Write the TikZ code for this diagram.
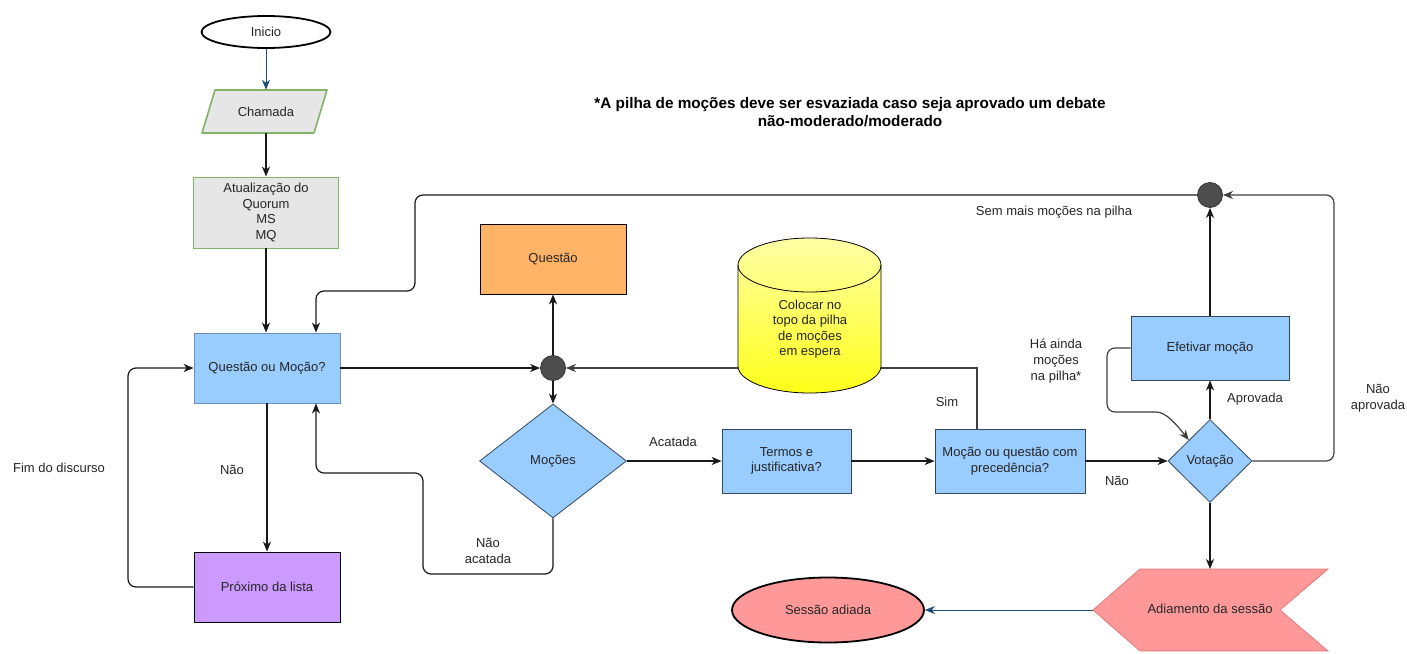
\documentclass[tikz,border=0pt]{standalone}
\usepackage{fontspec}
\setmainfont{Liberation Sans}
\usetikzlibrary{shapes.geometric,arrows.meta}
\definecolor{txt}{HTML}{262626}
\definecolor{blueF}{HTML}{99CCFF}
\definecolor{blueB}{HTML}{6C8EBF}
\definecolor{blueD}{HTML}{34495E}
\definecolor{grayF}{HTML}{E6E6E6}
\definecolor{greenB}{HTML}{82B366}
\definecolor{purpF}{HTML}{CC99FF}
\definecolor{orangeF}{HTML}{FFB366}
\definecolor{redF}{HTML}{FF9999}
\definecolor{redB}{HTML}{E07A7A}
\definecolor{navyL}{HTML}{1F4E79}
\definecolor{dotF}{HTML}{4D4D4D}
\definecolor{cylTop}{HTML}{FFFFA6}
\definecolor{cylBot}{HTML}{FFFF1A}
\tikzset{
  lab/.style={font=\fontsize{13}{16}\selectfont, text=txt, align=center, inner sep=0},
  box/.style={draw, rectangle, inner sep=0, align=center, line width=0.8pt,
              font=\fontsize{13}{15.5}\selectfont, text=txt},
  term/.style={ellipse, draw=black, line width=1.8pt, inner sep=0,
               font=\fontsize{13}{15.5}\selectfont, text=txt},
  dec/.style={diamond, draw=blueD, fill=blueF, line width=0.8pt, inner sep=0,
              font=\fontsize{13}{15.5}\selectfont, text=txt},
  junc/.style={circle, fill=dotF, draw=black!80, line width=0.8pt, minimum size=25pt, inner sep=0},
  tip/.style={-{Stealth[length=10pt,width=8pt,inset=3pt]}},
  conn/.style={draw=black!90, line width=1.2pt, tip},
  bconn/.style={draw=navyL, line width=1pt, tip},
}
\begin{document}
\begin{tikzpicture}[x=1pt,y=-1pt]
\useasboundingbox[fill=white] (0,0) rectangle (1407,653);

% title
\node[font=\fontsize{15.3}{18}\selectfont\bfseries, text=black, align=center, inner sep=0] (title) at (850,112)
  {*A pilha de moções deve ser esvaziada caso seja aprovado um debate\\não-moderado/moderado};

% nodes
\node[term, fill=white, minimum width=129pt, minimum height=32pt] (inicio) at (266,32) {Inicio};
\draw[fill=grayF, draw=greenB, line width=1.6pt, line join=round] (202,133) -- (215,90) -- (327,90) -- (314,133) -- cycle;
\node[lab, font=\fontsize{13}{15.5}\selectfont, minimum width=100pt, minimum height=43pt] (chamada) at (266,111.5) {Chamada};
\node[box, fill=grayF, draw=greenB, minimum width=145pt, minimum height=71pt] (atual) at (266,212.5)
  {Atualização do\\Quorum\\MS\\MQ};
\node[box, fill=blueF, draw=blueB, minimum width=146pt, minimum height=70pt] (qom) at (267,368) {Questão ou Moção?};
\node[box, fill=purpF, draw=black, minimum width=146pt, minimum height=70pt] (prox) at (267,587) {Próximo da lista};
\node[box, fill=orangeF, draw=black, minimum width=146pt, minimum height=70pt] (questao) at (553,259) {Questão};
\node[junc] (jc) at (553,368) {};
\node[dec, minimum width=147pt, minimum height=114pt] (mocoes) at (553,461) {Moções};
\node[box, fill=blueF, draw=blueD, minimum width=129pt, minimum height=64pt] (termos) at (786.5,461) {Termos e\\justificativa?};
\node[box, fill=blueF, draw=blueD, minimum width=150pt, minimum height=64pt] (mqp) at (1010,461) {Moção ou questão com\\precedência?};
\node[dec, minimum width=84pt, minimum height=83pt] (vot) at (1210,461) {Votação};
\node[box, fill=blueF, draw=blueD, minimum width=158pt, minimum height=64pt] (eff) at (1210,348) {Efetivar moção};
\node[junc] (jt) at (1210,195) {};
\node[term, fill=redF, minimum width=192pt, minimum height=65pt] (sessao) at (828,610) {Sessão adiada};

% connectors
\draw[bconn] (inicio.south) -- (inicio.south |- chamada.north);
\draw[conn] (chamada.south) -- (chamada.south |- atual.north);
\draw[conn] (atual.south) -- (atual.south |- qom.north);
\draw[conn] (qom.south) -- (prox.north);
\node[lab] at (232,470) {Não};
\draw[conn, rounded corners=8pt] (prox.west) -- (128,587) -- (128,368) -- (qom.west);
\node[lab] at (59,468) {Fim do discurso};
\draw[conn] (qom.east) -- (jc.west);
\draw[conn] (jc.north) -- (questao.south);
\draw[conn] (jc.south) -- (mocoes.north);
\draw[conn] (mocoes.east) -- (termos.west);
\node[lab] at (673,442) {Acatada};
\draw[conn] (termos.east) -- (mqp.west);
\draw[conn] (mqp.east) -- (vot.west);
\node[lab] at (1117,481) {Não};
\draw[conn, draw=black!75] ([xshift=-33pt]mqp.north) |- (jc.east);
\node[lab] at (947,402) {Sim};

% cylinder (drawn over the connector)
\draw[line width=0.8pt, top color=cylTop, bottom color=cylBot]
  (738,265) -- (738,366) arc[start angle=180, end angle=360, x radius=71.5pt, y radius=27pt]
  -- (881,265) arc[start angle=0, end angle=180, x radius=71.5pt, y radius=27pt] -- cycle;
\draw[line width=0.8pt] (738,265) arc[start angle=180, end angle=360, x radius=71.5pt, y radius=27pt];
\node[lab, font=\fontsize{13}{15.4}\selectfont] (cyl) at (810,329) {Colocar no\\topo da pilha\\de moções\\em espera};

\draw[conn] (vot.north) -- (eff.south);
\node[lab] at (1255,399) {Aprovada};
\draw[conn] (eff.north) -- (jt.south);
\draw[conn, draw=black!75, rounded corners=8pt] (vot.east) -- (1334,461) -- (1334,195) -- (jt.east);
\node[lab] at (1378,398) {Não\\aprovada};
\draw[conn, rounded corners=8pt] (jt.west) -- (415,195) -- (415,291) -- (316,291) -- ([xshift=49pt]qom.north);
\node[lab] at (1054,212) {Sem mais moções na pilha};
\draw[conn, rounded corners=8pt] (mocoes.south) -- (553,574) -- (423,574) -- (423,473) -- (316,473) -- ([xshift=49pt]qom.south);
\node[lab] at (488,551) {Não\\acatada};
\draw[conn, draw=black!75, rounded corners=8pt] (eff.west) -- (1107,348) -- (1107,412) -- (1148,412)
  .. controls (1166,412) and (1176,424) .. (vot.north west);
\node[lab] at (1056,361) {Há ainda\\moções\\na pilha*};

% Adiamento da sessão
\draw[fill=redF, draw=redB, line width=0.8pt] (1093,610) -- (1140,569) -- (1328,569) -- (1280,610) -- (1328,651) -- (1140,651) -- cycle;
\node[lab, font=\fontsize{13}{15.5}\selectfont] (adj) at (1210,609) {Adiamento da sessão};
\coordinate (adjtop) at (1210,569);
\coordinate (adjtip) at (1093,610);
\draw[conn] (vot.south) -- (adjtop);
\draw[bconn] (adjtip) -- (sessao.east);
\end{tikzpicture}
\end{document}
